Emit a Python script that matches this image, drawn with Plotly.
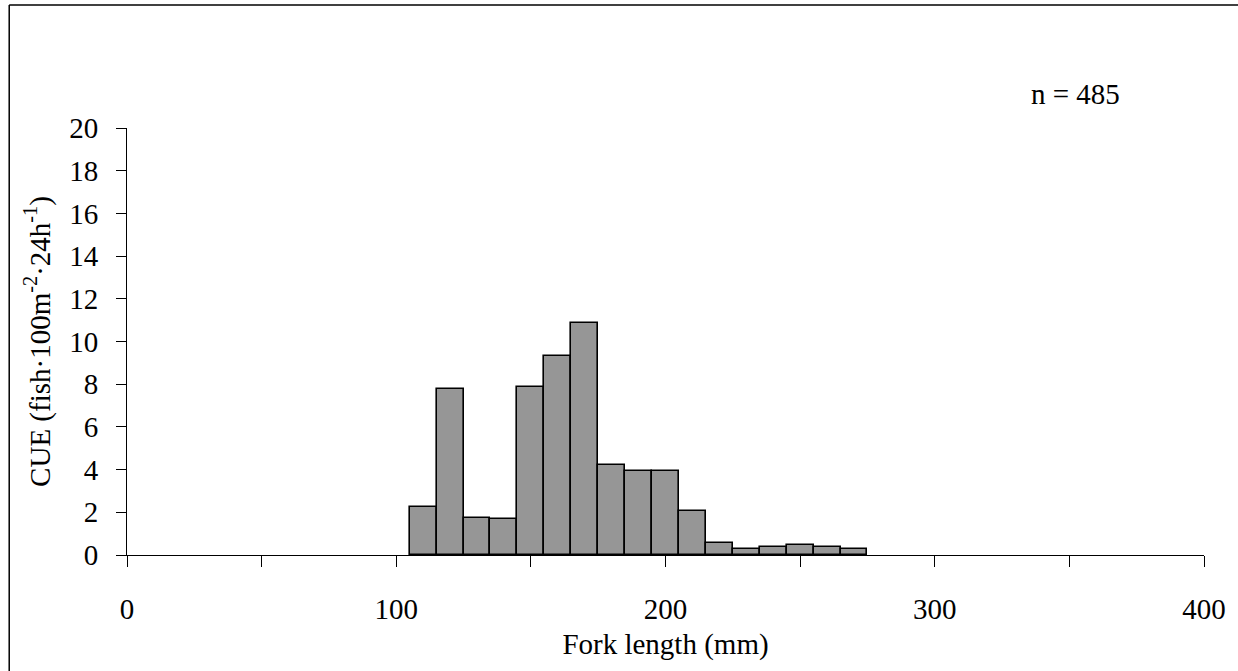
import plotly.graph_objects as go

# Data
bin_left = [105, 115, 125, 135, 145, 155, 165, 175, 185, 195, 205, 215, 225, 235, 245, 255, 265]
cue = [2.23, 7.76, 1.75, 1.68, 7.85, 9.34, 10.85, 4.20, 3.92, 3.92, 2.05, 0.58, 0.28, 0.37, 0.49, 0.37, 0.28]
bin_width = 10
x_tickvals = [0, 100, 200, 300, 400]
x_ticktext = ["0", "100", "200", "300", "400"]
y_tickvals = [0, 2, 4, 6, 8, 10, 12, 14, 16, 18, 20]
n_label = "n = 485"

W, H = 1238, 671
ml, mr, mt, mb = 127, 32, 128, 116
pw, ph = W - ml - mr, H - mt - mb

FONT = "Liberation Serif"
FS = 29

fig = go.Figure()
fig.add_trace(go.Bar(
    x=[b + bin_width / 2 for b in bin_left],
    y=cue,
    width=[bin_width] * len(bin_left),
    marker=dict(color="#969696", line=dict(color="black", width=1.6)),
    showlegend=False,
    hoverinfo="skip",
))

fig.update_layout(
    width=W, height=H,
    margin=dict(l=ml, r=mr, t=mt, b=mb, pad=0),
    paper_bgcolor="white", plot_bgcolor="white",
    font=dict(family=FONT, size=FS, color="black"),
    bargap=0,
    xaxis=dict(
        range=[0, 400], tickmode="array", tickvals=x_tickvals, ticktext=x_ticktext,
        ticks="outside", ticklen=11, tickwidth=1, tickcolor="black",
        minor=dict(dtick=50, tick0=0, ticks="outside", ticklen=11, tickwidth=1,
                   tickcolor="black", showgrid=False),
        showline=True, linecolor="black", linewidth=1, showgrid=False, zeroline=False,
        ticklabelstandoff=17,
        title=dict(text="Fork length (mm)", font=dict(size=FS), standoff=9),
    ),
    yaxis=dict(
        range=[0, 20], tickmode="array", tickvals=y_tickvals,
        ticks="outside", ticklen=10, tickwidth=1, tickcolor="black",
        showline=True, linecolor="black", linewidth=1, showgrid=False, zeroline=False,
        ticklabelstandoff=12,
        title=dict(text="CUE (fish·100m<sup>-2</sup>·24h<sup>-1</sup>)", font=dict(size=FS), standoff=10),
    ),
    annotations=[dict(
        x=(1031 - ml) / pw, y=(H - mb - 94) / ph, xref="paper", yref="paper",
        text=n_label, showarrow=False,
        xanchor="left", yanchor="middle", font=dict(size=FS),
    )],
    shapes=[
        dict(type="line", xref="paper", yref="paper",
             x0=(9 - ml) / pw, x1=(9 - ml) / pw, y0=(H - mb - 5) / ph, y1=(H - mb - 700) / ph,
             line=dict(color="black", width=1.5)),
        dict(type="line", xref="paper", yref="paper",
             x0=(9 - ml) / pw, x1=(1300 - ml) / pw, y0=(H - mb - 5) / ph, y1=(H - mb - 5) / ph,
             line=dict(color="black", width=1.5)),
    ],
)

fig.write_html("out.html")
